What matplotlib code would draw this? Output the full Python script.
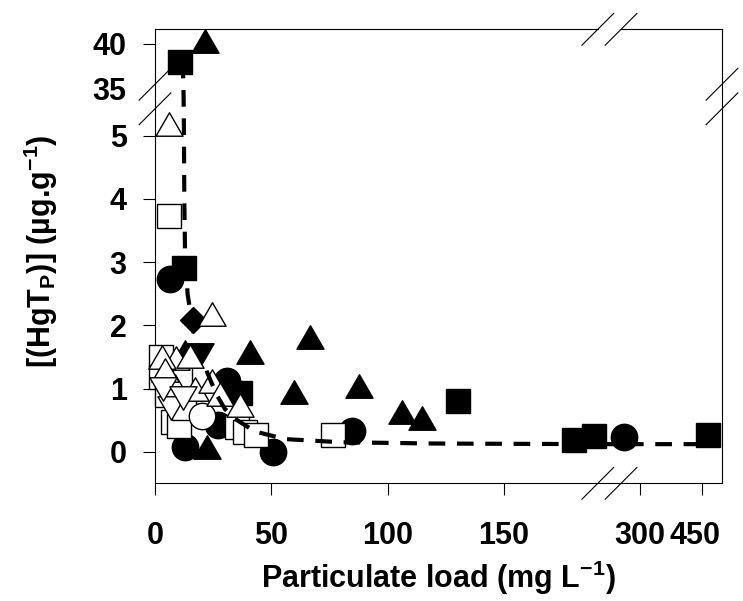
import numpy as np
import matplotlib.pyplot as plt
from matplotlib.path import Path
from matplotlib.transforms import ScaledTranslation

plt.rcParams['font.family'] = ['Liberation Sans', 'DejaVu Sans']
plt.rcParams['font.weight'] = 'bold'
plt.rcParams['mathtext.fontset'] = 'custom'
plt.rcParams['mathtext.rm'] = 'Liberation Sans:bold'
plt.rcParams['mathtext.bf'] = 'Liberation Sans:bold'

# filled symbols
fcirc_x = [6.4, 30.9, 27.0, 12.9, 50.7, 84.7, 260]
fcirc_y = [2.73, 1.12, 0.42, 0.075, 0.0, 0.33, 0.23]
fsq_x = [10.7, 12.5, 36.5, 130.2, 180.3, 188.7, 465]
fsq_y = [38.0, 2.91, 0.93, 0.80, 0.185, 0.25, 0.27]
ftri_x = [21.5, 40.8, 66.6, 59.7, 87.7, 106.1, 114.7, 22.3, 12.9]
ftri_y = [40.3, 1.58, 1.82, 0.95, 1.04, 0.63, 0.53, 0.075, 1.58]
ftrid_x = [19.3]
ftrid_y = [1.53]
fdia_x = [16.3]
fdia_y = [2.08]

# open symbols
osq_x = [6.2, 76.5, 35.2, 38.7, 43.4, 7.7, 10.3, 2.6, 10.7, 2.6, 5.0, 12.5]
osq_y = [3.73, 0.26, 0.39, 0.32, 0.265, 0.47, 0.41, 1.5, 1.21, 1.18, 0.9, 0.7]
otri_x = [6.2, 24.7, 9.0, 15.0, 3.0, 8.6, 17.2, 24.5, 27.9, 36.5, 4.5]
otri_y = [5.19, 2.18, 1.48, 1.51, 1.5, 1.04, 1.0, 1.12, 0.91, 0.74, 1.3]
otrid_x = [6.9, 3.4, 12.0]
otrid_y = [0.69, 1.0, 0.85]
ocirc_x = [20.2]
ocirc_y = [0.565]

# dashed fitted curve
fit_x = [11.6, 12.2, 12.4, 12.6, 12.9, 14.0, 16.5, 19.0, 22.5, 26.5, 30.0, 34.0,
         43.0, 56.0, 80.0, 120.0, 190.0, 300.0, 470.0]
fit_y = [38.0, 36.0, 5.3, 4.0, 3.2, 2.5, 1.9, 1.62, 1.25, 0.9, 0.68, 0.53,
         0.32, 0.2, 0.15, 0.13, 0.12, 0.12, 0.12]

# broken axes as piecewise linear scales
x_dat = [-50, 0, 190.4, 253, 300, 450, 700]
x_pix = [-116.4, 0, 443, 466, 485.3, 546.9, 649.6]
y_dat = [-5, -0.5, 5.45, 35, 41.6, 60]
y_pix = [-284.1, 0, 375.7, 394.3, 453.7, 619.3]


def fx(v):
    return np.interp(v, x_dat, x_pix)


def ix(v):
    return np.interp(v, x_pix, x_dat)


def fy(v):
    return np.interp(v, y_dat, y_pix)


def iy(v):
    return np.interp(v, y_pix, y_dat)


tri_up = Path([(0, 0.433), (-0.5, -0.433), (0.5, -0.433), (0, 0.433)], closed=True)
tri_dn = Path([(0, -0.433), (-0.5, 0.433), (0.5, 0.433), (0, -0.433)], closed=True)

fig = plt.figure(figsize=(7.43, 6.01), dpi=100)
ax = fig.add_axes([0.2086, 0.1958, 0.7631, 0.7554])
ax.set_xscale('function', functions=(fx, ix))
ax.set_yscale('function', functions=(fy, iy))

kw = dict(ls='none', clip_on=False, mec='k', mew=1.0)
ax.plot(fcirc_x, fcirc_y, marker='o', ms=19, mfc='k', zorder=3, **kw)
ax.plot(fsq_x, fsq_y, marker='s', ms=17.5, mfc='k', zorder=3, **kw)
ax.plot(ftri_x, ftri_y, marker=tri_up, ms=19.5, mfc='k', zorder=3, **kw)
ax.plot(ftrid_x, ftrid_y, marker=tri_dn, ms=19.5, mfc='k', zorder=3, **kw)
ax.plot(fdia_x, fdia_y, marker='D', ms=13, mfc='k', zorder=3, **kw)

ax.plot(osq_x, osq_y, marker='s', ms=17.5, mfc='w', zorder=4, **kw)
ax.plot(ocirc_x, ocirc_y, marker='o', ms=19, mfc='w', zorder=4, **kw)
ax.plot(otri_x, otri_y, marker=tri_up, ms=19.5, mfc='w', zorder=4, **kw)
ax.plot(otrid_x, otrid_y, marker=tri_dn, ms=19.5, mfc='w', zorder=4, **kw)

ax.plot(fit_x, fit_y, color='k', lw=3, ls=(0, (4, 2.8)), zorder=5)

ax.set_xlim(0, 499)
ax.set_ylim(-0.5, 41.6)
ax.set_xticks([0, 50, 100, 150, 300, 450])
ax.set_xticklabels(['0', '50', '100', '150', '300', '450'])
ax.set_yticks([0, 1, 2, 3, 4, 5, 35, 40])
ax.set_yticklabels(['0', '1', '2', '3', '4', '5', '35', '40'])
ax.yaxis.get_major_ticks()[6].tick1line.set_visible(False)
ax.tick_params(axis='x', direction='out', length=8.4, width=0.8, labelsize=22, pad=19)
ax.tick_params(axis='y', direction='out', length=8.4, width=0.8, labelsize=22, pad=12)
for s in ax.spines.values():
    s.set_linewidth(0.8)

# the 450 label sits a little left of its tick in the original
lbl = ax.get_xticklabels()[5]
lbl.set_transform(lbl.get_transform() + ScaledTranslation(-0.07, 0, fig.dpi_scale_trans))

# top spine with a gap at the x break
ax.spines['top'].set_visible(False)
ax.plot([0, 0.781], [1, 1], transform=ax.transAxes, color='k', lw=0.8, clip_on=False)
ax.plot([0.822, 1], [1, 1], transform=ax.transAxes, color='k', lw=0.8, clip_on=False)

# break marks
dx, dy = 0.028, 0.035
for xb in [0.781, 0.822]:
    for yb in [0, 1]:
        ax.plot([xb - dx, xb + dx], [yb - dy, yb + dy], transform=ax.transAxes,
                color='k', lw=0.8, clip_on=False)
for yb in [0.879, 0.825]:
    for xb in [0, 1]:
        ax.plot([xb - dx, xb + dx], [yb - dy, yb + dy], transform=ax.transAxes,
                color='k', lw=0.8, clip_on=False)

ax.set_xlabel('Particulate load (mg L$^\\mathbf{-1}$)', fontsize=22, fontweight='bold')
ax.set_ylabel('[(HgT$_\\mathbf{P}$)] (µg.g$^\\mathbf{-1}$)', fontsize=22, fontweight='bold')
ax.xaxis.set_label_coords(0.5, -0.165)
ax.yaxis.set_label_coords(-0.168, 0.512)

fig.savefig('out.png', dpi=100)
